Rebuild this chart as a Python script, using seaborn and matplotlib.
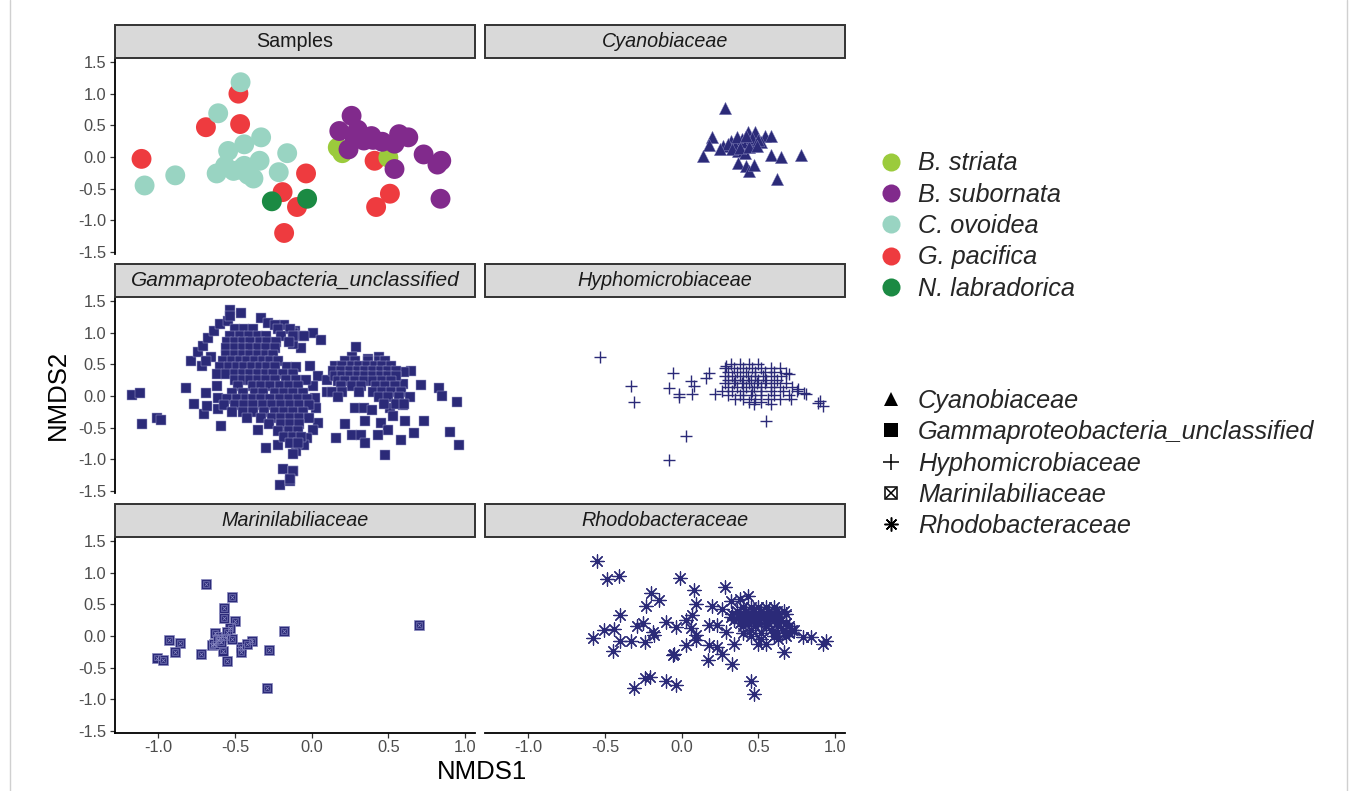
import numpy as np
import pandas as pd
import matplotlib
matplotlib.use("Agg")
import matplotlib.pyplot as plt
import seaborn as sns
from matplotlib.lines import Line2D
from matplotlib.patches import Rectangle
from matplotlib.legend_handler import HandlerTuple
from matplotlib.ticker import FixedLocator, FuncFormatter

sns.set_theme(style="white")
plt.rcParams["font.family"] = ["Liberation Sans", "DejaVu Sans"]

# ---------------- data ----------------
SPECIES = ["B. striata", "B. subornata", "C. ovoidea", "G. pacifica", "N. labradorica"]
SPECIES_COLORS = ["#9BCB3C", "#812A8C", "#99D4C2", "#EE3B3F", "#1B8A43"]

pacifica_x = [-0.478, -0.69, -0.467, -1.11, -0.037, -0.19, -0.096, -0.18, 0.41, 0.51, 0.42]
pacifica_y = [1.00, 0.47, 0.52, -0.03, -0.26, -0.555, -0.79, -1.20, -0.06, -0.58, -0.79]
ovoidea_x = [-0.464, -0.61, -0.33, -0.44, -0.545, -0.16, -0.89, -1.09, -0.62, -0.51,
             -0.44, -0.34, -0.38, -0.415, -0.215, -0.565, -0.47]
ovoidea_y = [1.18, 0.69, 0.31, 0.20, 0.095, 0.06, -0.29, -0.45, -0.26, -0.22,
             -0.14, -0.06, -0.34, -0.28, -0.24, -0.14, -0.20]
labradorica_x = [-0.26, -0.03]
labradorica_y = [-0.70, -0.66]
striata_x = [0.17, 0.20, 0.50]
striata_y = [0.15, 0.06, -0.01]
subornata_x = [0.26, 0.18, 0.30, 0.39, 0.34, 0.24, 0.46, 0.57, 0.63, 0.54, 0.73,
               0.845, 0.82, 0.54, 0.84, 0.40, 0.28]
subornata_y = [0.65, 0.41, 0.43, 0.33, 0.26, 0.12, 0.24, 0.36, 0.31, 0.21, 0.04,
               -0.06, -0.12, -0.19, -0.66, 0.27, 0.30]

cyano_x = [0.28, 0.20, 0.18, 0.14, 0.27, 0.32, 0.39, 0.43, 0.48, 0.54, 0.58, 0.52, 0.45,
           0.37, 0.41, 0.365, 0.42, 0.44, 0.47, 0.58, 0.65, 0.78, 0.62, 0.30, 0.35, 0.40,
           0.46, 0.50, 0.33, 0.38, 0.44, 0.49, 0.36, 0.42, 0.25]
cyano_y = [0.78, 0.32, 0.19, 0.02, 0.17, 0.26, 0.28, 0.39, 0.40, 0.33, 0.33, 0.23, 0.22,
           0.09, 0.07, -0.09, -0.14, -0.22, -0.12, 0.025, 0.0, 0.03, -0.34, 0.20, 0.18, 0.24,
           0.30, 0.27, 0.12, 0.14, 0.15, 0.18, 0.32, 0.33, 0.12]

# Gammaproteobacteria: dense clusters read row by row (y, xs), plus scattered points
gamma_rows = [
    (1.05, [-0.50, -0.44, -0.38, -0.22, -0.14]),
    (0.95, [-0.53, -0.47, -0.41, -0.35, -0.30, -0.20, -0.12, -0.05]),
    (0.85, [-0.55, -0.50, -0.45, -0.40, -0.34, -0.29, -0.23, -0.15]),
    (0.75, [-0.56, -0.50, -0.45, -0.40, -0.35, -0.30, -0.24]),
    (0.65, [-0.56, -0.50, -0.45, -0.40, -0.35, -0.30, -0.25]),
    (0.55, [-0.58, -0.52, -0.47, -0.42, -0.37, -0.32, -0.27, -0.22]),
    (0.45, [-0.60, -0.54, -0.49, -0.44, -0.39, -0.34, -0.29, -0.24, -0.16, -0.10]),
    (0.35, [-0.62, -0.56, -0.50, -0.45, -0.40, -0.35, -0.30, -0.25, -0.19, -0.12]),
    (0.25, [-0.50, -0.45, -0.40, -0.35, -0.30, -0.24, -0.17, -0.10, -0.04]),
    (0.15, [-0.48, -0.38, -0.33, -0.27, -0.21, -0.15, -0.09]),
    (0.05, [-0.52, -0.45, -0.37, -0.32, -0.24, -0.18, -0.12, -0.06]),
    (-0.05, [-0.55, -0.49, -0.43, -0.38, -0.33, -0.27, -0.21, -0.15, -0.09, -0.03]),
    (-0.15, [-0.57, -0.50, -0.44, -0.38, -0.32, -0.26, -0.20, -0.14, -0.08, -0.02]),
    (-0.25, [-0.52, -0.45, -0.38, -0.31, -0.24, -0.18, -0.12, -0.06]),
    (-0.35, [-0.42, -0.33, -0.26, -0.20, -0.14, -0.08, -0.02]),
    (-0.45, [-0.28, -0.20, -0.14, -0.08]),
    (-0.55, [-0.22, -0.15, -0.09]),
    (-0.65, [-0.18, -0.12, -0.07]),
    (-0.75, [-0.14, -0.09]),
    (0.55, [0.22, 0.28, 0.37, 0.44, 0.48]),
    (0.47, [0.15, 0.20, 0.26, 0.31, 0.36, 0.41, 0.46, 0.52]),
    (0.39, [0.14, 0.19, 0.25, 0.30, 0.35, 0.40, 0.45, 0.50, 0.55]),
    (0.31, [0.15, 0.20, 0.25, 0.30, 0.35, 0.40, 0.45, 0.50, 0.55]),
    (0.23, [0.17, 0.22, 0.28, 0.34, 0.40, 0.46, 0.52]),
    (0.15, [0.19, 0.26, 0.32, 0.42, 0.48, 0.54]),
    (0.07, [0.13, 0.20, 0.31, 0.40, 0.46, 0.52, 0.58]),
    (-0.02, [0.17, 0.44, 0.50, 0.57, 0.64]),
    (-0.12, [0.47, 0.55, 0.60]),
]
gamma_x = [-1.175, -1.12, -1.11, -1.01, -0.98, -0.82, -0.77, -0.69, -0.70, -0.68, -0.59, -0.79,
           -0.715, -0.74, -0.71, -0.675, -0.64, -0.60, -0.545, -0.53, -0.53, -0.46, -0.33, -0.285,
           -0.18, -0.11, -0.24, -0.62, -0.61, -0.61, -0.66, -0.69, -0.35, -0.295, -0.22, -0.19,
           -0.12, -0.21, -0.14, -0.17, -0.12, -0.07, 0.01, 0.06, -0.07, -0.12, 0.29, -0.01, 0.04,
           0.10, 0.10, 0.01, 0.02, 0.03, 0.04, 0.01, -0.03, -0.05, -0.10, -0.12, -0.12, -0.14,
           0.28, 0.34, 0.39, 0.51, 0.53, 0.215, 0.26, 0.32, 0.345, 0.345, 0.45, 0.50, 0.43, 0.16,
           0.58, 0.61, 0.67, 0.73, 0.48, 0.90, 0.96, 0.95, 0.83, 0.85, 0.71, 0.595, 0.65, 0.60,
           0.26, 0.37, 0.44, 0.595]
gamma_y = [0.01, 0.05, -0.45, -0.34, -0.38, 0.13, -0.13, 0.04, -0.29, -0.16, -0.48, 0.55,
           0.47, 0.70, 0.79, 0.92, 1.02, 1.13, 1.18, 1.35, 1.27, 1.31, 1.23, 1.15,
           1.12, 1.02, 1.12, 0.15, -0.03, -0.20, 0.62, 0.55, -0.53, -0.82, -0.77, -1.16,
           -1.19, -1.40, -1.35, -0.57, 0.99, 0.95, 0.99, 0.89, 0.76, 0.82, 0.77, 0.47, 0.31,
           0.26, 0.07, 0.15, -0.03, -0.19, -0.43, -0.53, -0.66, -0.77, -0.87, -0.92, -1.18, -1.31,
           -0.19, -0.19, -0.22, -0.19, -0.32, -0.45, -0.61, -0.61, -0.74, -0.40, -0.43, -0.53, -0.61, -0.66,
           -0.69, -0.39, -0.58, -0.39, -0.93, -0.57, -0.77, -0.10, 0.12, 0.005, 0.17, 0.19, 0.39, 0.38,
           0.61, 0.58, 0.62, -0.15]

hypho_rows = [
    (0.50, [0.32, 0.38, 0.44, 0.50]),
    (0.44, [0.28, 0.34, 0.40, 0.46, 0.52, 0.58, 0.64]),
    (0.38, [0.30, 0.36, 0.42, 0.48, 0.54, 0.60]),
    (0.32, [0.28, 0.33, 0.38, 0.43, 0.48, 0.53, 0.58, 0.65]),
    (0.26, [0.30, 0.35, 0.40, 0.45, 0.50, 0.55, 0.62]),
    (0.20, [0.28, 0.34, 0.39, 0.44, 0.49, 0.54, 0.60, 0.68]),
    (0.14, [0.30, 0.36, 0.42, 0.47, 0.52, 0.58, 0.64, 0.72]),
    (0.08, [0.26, 0.33, 0.40, 0.46, 0.52, 0.58, 0.66, 0.75]),
    (0.02, [0.30, 0.38, 0.45, 0.52, 0.60, 0.70]),
    (-0.04, [0.40, 0.48, 0.56, 0.64]),
    (-0.10, [0.44, 0.52]),
]
hypho_x = [-0.53, -0.33, -0.31, -0.06, -0.08, -0.02, -0.015, 0.03, -0.08, 0.06, 0.08, 0.07,
           0.16, 0.18, 0.22, 0.55, 0.71, 0.70, 0.886, 0.92, 0.81, 0.76, 0.80, 0.90, 0.35, 0.47,
           0.58, 0.68, 0.29]
hypho_y = [0.62, 0.16, -0.09, 0.37, 0.13, 0.03, -0.02, -0.63, -1.01, 0.24, 0.16, 0.03,
           0.29, 0.37, 0.03, -0.39, -0.05, 0.34, -0.11, -0.16, 0.03, 0.11, 0.05, -0.08, -0.05, -0.13,
           -0.13, 0.37, 0.47]

marini_x = [-0.69, -0.52, -0.57, -0.57, -0.50, -0.53, -0.63, -0.93, -0.86, -0.89, -1.01, -0.97,
            -0.72, -0.65, -0.60, -0.56, -0.58, -0.555, -0.46, -0.46, -0.39, -0.28, -0.18, -0.29,
            0.70, -0.64, -0.61, -0.55, -0.42, -0.59, -0.52]
marini_y = [0.82, 0.62, 0.44, 0.28, 0.23, 0.13, 0.04, -0.06, -0.11, -0.26, -0.34, -0.38,
            -0.28, -0.15, -0.02, -0.02, -0.23, -0.39, -0.17, -0.25, -0.08, -0.22, 0.08, -0.82,
            0.18, -0.12, -0.07, 0.06, -0.12, -0.10, -0.05]

rhodo_rows = [
    (0.45, [0.40, 0.45, 0.50, 0.55, 0.60]),
    (0.40, [0.36, 0.42, 0.47, 0.52, 0.57, 0.62, 0.67]),
    (0.35, [0.33, 0.38, 0.43, 0.48, 0.53, 0.58, 0.63, 0.68]),
    (0.30, [0.32, 0.37, 0.42, 0.47, 0.52, 0.57, 0.62]),
    (0.25, [0.34, 0.40, 0.45, 0.50, 0.55, 0.60, 0.65]),
    (0.20, [0.38, 0.44, 0.50, 0.56, 0.62, 0.68]),
    (0.15, [0.40, 0.48, 0.55, 0.63, 0.70]),
    (0.10, [0.45, 0.58, 0.66, 0.72]),
    (0.05, [0.40, 0.52, 0.62, 0.70]),
    (0.00, [0.45, 0.60, 0.68]),
    (-0.05, [0.52, 0.63]),
]
rhodo_x = [-0.55, -0.49, -0.41, -0.01, 0.08, 0.28, -0.20, -0.15, -0.23, 0.09, 0.20, 0.26, 0.32,
           0.38, 0.43, -0.40, -0.58, -0.51, -0.44, -0.40, -0.45, -0.33, -0.29, -0.25, -0.24,
           -0.19, -0.18, -0.10, -0.04, 0.03, 0.07, 0.06, 0.09, 0.09, 0.03, -0.05, -0.06, 0.18,
           0.18, 0.17, 0.23, 0.26, 0.33, 0.34, 0.23, 0.29, -0.31, -0.24, -0.21, -0.10, -0.04,
           0.45, 0.47, 0.67, 0.92, 0.94, 0.84, 0.79, 0.73, 0.495, 0.55]
rhodo_y = [1.18, 0.90, 0.94, 0.92, 0.73, 0.77, 0.68, 0.57, 0.47, 0.51, 0.48, 0.43, 0.56,
           0.59, 0.63, 0.33, -0.03, 0.10, 0.11, -0.08, -0.24, -0.08, 0.15, 0.21, -0.09,
           0.06, 0.02, 0.22, 0.14, 0.25, 0.33, 0.12, 0.01, -0.07, -0.15, -0.28, -0.30, 0.17,
           -0.15, -0.38, -0.17, -0.28, -0.45, -0.12, 0.17, 0.06, -0.82, -0.67, -0.65, -0.71, -0.78,
           -0.71, -0.91, -0.26, -0.13, -0.08, -0.02, -0.02, 0.09, -0.12, -0.12]

FAMILIES = ["Cyanobiaceae", "Gammaproteobacteria_unclassified", "Hyphomicrobiaceae",
            "Marinilabiliaceae", "Rhodobacteraceae"]
X_TICKS = [-1.0, -0.5, 0.0, 0.5, 1.0]
Y_TICKS = [-1.5, -1.0, -0.5, 0.0, 0.5, 1.0, 1.5]

# ---------------- build tables ----------------
def rows_to_xy(rows, xs, ys):
    ox, oy = list(xs), list(ys)
    for yv, xl in rows:
        ox += xl
        oy += [yv] * len(xl)
    return ox, oy

samples = pd.concat([
    pd.DataFrame({"x": pacifica_x, "y": pacifica_y, "sp": "G. pacifica"}),
    pd.DataFrame({"x": ovoidea_x, "y": ovoidea_y, "sp": "C. ovoidea"}),
    pd.DataFrame({"x": labradorica_x, "y": labradorica_y, "sp": "N. labradorica"}),
    pd.DataFrame({"x": striata_x, "y": striata_y, "sp": "B. striata"}),
    pd.DataFrame({"x": subornata_x, "y": subornata_y, "sp": "B. subornata"}),
], ignore_index=True)

gx, gy = rows_to_xy(gamma_rows, gamma_x, gamma_y)
hx, hy = rows_to_xy(hypho_rows, hypho_x, hypho_y)
rx, ry = rows_to_xy(rhodo_rows, rhodo_x, rhodo_y)
fam_data = {
    "Cyanobiaceae": pd.DataFrame({"x": cyano_x, "y": cyano_y}),
    "Gammaproteobacteria_unclassified": pd.DataFrame({"x": gx, "y": gy}),
    "Hyphomicrobiaceae": pd.DataFrame({"x": hx, "y": hy}),
    "Marinilabiliaceae": pd.DataFrame({"x": marini_x, "y": marini_y}),
    "Rhodobacteraceae": pd.DataFrame({"x": rx, "y": ry}),
}

# ---------------- figure layout ----------------
W, H = 1356, 791
fig = plt.figure(figsize=(W / 100, H / 100), dpi=100)
NAVY = "#2B2A78"
XLIM = (-1.283, 1.065)
YLIM = (-1.532, 1.547)
col_left = [115, 485]
panel_w = 360
row_top = [59, 298, 538]
panel_h = 195
strip_h = 33

def make_ax(r, c):
    left = col_left[c] / W
    bottom = 1 - (row_top[r] + panel_h) / H
    ax = fig.add_axes([left, bottom, panel_w / W, panel_h / H])
    ax.set_xlim(*XLIM)
    ax.set_ylim(*YLIM)
    ax.set_facecolor("white")
    for s in ax.spines.values():
        s.set_visible(False)
    ax.xaxis.set_major_locator(FixedLocator(X_TICKS))
    ax.yaxis.set_major_locator(FixedLocator(Y_TICKS))
    fmt = FuncFormatter(lambda v, p: f"{v:.1f}")
    ax.xaxis.set_major_formatter(fmt)
    ax.yaxis.set_major_formatter(fmt)
    ax.tick_params(axis="both", length=3.3, width=0.9, color="#333333",
                   labelsize=11.8, labelcolor="#4D4D4D")
    ax.tick_params(axis="x", pad=1.5)
    ax.tick_params(axis="y", pad=3)
    if c == 0:
        ax.spines["left"].set_visible(True)
        ax.spines["left"].set_linewidth(1.3)
        ax.spines["left"].set_color("black")
        ax.tick_params(axis="y", left=True, labelleft=True)
    else:
        ax.tick_params(axis="y", left=False, labelleft=False)
    if r == 2:
        ax.spines["bottom"].set_visible(True)
        ax.spines["bottom"].set_linewidth(1.3)
        ax.spines["bottom"].set_color("black")
        ax.tick_params(axis="x", bottom=True, labelbottom=True)
    else:
        ax.tick_params(axis="x", bottom=False, labelbottom=False)
    ax.set_xlabel("")
    ax.set_ylabel("")
    return ax

def add_strip(ax, label, italic, size):
    y0 = 1 + 1.0 / panel_h
    hh = strip_h / panel_h
    ax.add_patch(Rectangle((0, y0), 1, hh, transform=ax.transAxes, clip_on=False,
                           facecolor="#D9D9D9", edgecolor="#333333", linewidth=1.4, zorder=5))
    ax.text(0.5, y0 + hh / 2, label, transform=ax.transAxes, ha="center", va="center",
            fontsize=size, color="#1A1A1A", style="italic" if italic else "normal", zorder=6)

panels = [("Samples", 0, 0), ("Cyanobiaceae", 0, 1),
          ("Gammaproteobacteria_unclassified", 1, 0), ("Hyphomicrobiaceae", 1, 1),
          ("Marinilabiliaceae", 2, 0), ("Rhodobacteraceae", 2, 1)]

for name, r, c in panels:
    ax = make_ax(r, c)
    if name == "Samples":
        sns.scatterplot(data=samples, x="x", y="y", hue="sp", hue_order=SPECIES,
                        palette=dict(zip(SPECIES, SPECIES_COLORS)), s=205, linewidth=0,
                        marker="o", legend=False, ax=ax)
    else:
        d = fam_data[name]
        if name == "Cyanobiaceae":
            sns.scatterplot(data=d, x="x", y="y", color=NAVY, marker="^", s=80,
                            linewidth=0.3, edgecolor="#8a8ac0", legend=False, ax=ax)
        elif name == "Gammaproteobacteria_unclassified":
            sns.scatterplot(data=d, x="x", y="y", color=NAVY, marker="s", s=62,
                            linewidth=0.35, edgecolor="#a0a0cc", legend=False, ax=ax)
        elif name == "Hyphomicrobiaceae":
            sns.scatterplot(data=d, x="x", y="y", color=NAVY, marker="+", s=85,
                            linewidth=1.0, legend=False, ax=ax)
        elif name == "Marinilabiliaceae":
            sns.scatterplot(data=d, x="x", y="y", color=NAVY, marker="s", s=58,
                            linewidth=0.5, edgecolor="#8a8ac0", legend=False, ax=ax)
            sns.scatterplot(data=d, x="x", y="y", marker="s", s=18, facecolor="none",
                            edgecolor="#7474b4", linewidth=0.5, legend=False, ax=ax)
            sns.scatterplot(data=d, x="x", y="y", color="#8a8ac4", marker="x", s=8,
                            linewidth=0.5, legend=False, ax=ax)
        elif name == "Rhodobacteraceae":
            sns.scatterplot(data=d, x="x", y="y", color=NAVY, marker=(8, 2, 0), s=90,
                            linewidth=0.9, legend=False, ax=ax)
    ax.set_xlabel("")
    ax.set_ylabel("")
    size = 15.0 if name == "Gammaproteobacteria_unclassified" else 14.2
    add_strip(ax, name, italic=(name != "Samples"), size=size)

# axis titles
fig.text(482 / W, 1 - 772 / H, "NMDS1", ha="center", va="center", fontsize=18.5, color="black")
fig.text(58 / W, 1 - 395 / H, "NMDS2", ha="center", va="center", rotation=90,
         fontsize=18.5, color="black")

# ---------------- legends ----------------
LEG_FS = 18.2
col_handles = [Line2D([], [], linestyle="none", marker="o", markersize=13,
                      markerfacecolor=cl, markeredgewidth=0) for cl in SPECIES_COLORS]
leg1 = fig.legend(col_handles, SPECIES, loc="upper left",
                  bbox_to_anchor=(879 / W, 1 - 151.5 / H), frameon=False,
                  prop={"style": "italic", "size": LEG_FS}, handlelength=0.96,
                  handletextpad=0.58, labelspacing=0.29, borderpad=0, borderaxespad=0)

boxed = (Line2D([], [], linestyle="none", marker="s", markersize=8.5, markerfacecolor="none",
                markeredgecolor="black", markeredgewidth=1.1),
         Line2D([], [], linestyle="none", marker="x", markersize=7.0, color="black",
                markeredgewidth=1.1))
shape_handles = [
    Line2D([], [], linestyle="none", marker="^", markersize=10.5, color="black", markeredgewidth=0),
    Line2D([], [], linestyle="none", marker="s", markersize=10, color="black", markeredgewidth=0),
    Line2D([], [], linestyle="none", marker="+", markersize=11, color="black", markeredgewidth=1.1),
    boxed,
    Line2D([], [], linestyle="none", marker=(8, 2, 0), markersize=10, color="black",
           markeredgewidth=1.1),
]
leg2 = fig.legend(shape_handles, FAMILIES, loc="upper left",
                  bbox_to_anchor=(879 / W, 1 - 389 / H), frameon=False,
                  prop={"style": "italic", "size": LEG_FS}, handlelength=0.96,
                  handletextpad=0.58, labelspacing=0.29, borderpad=0, borderaxespad=0,
                  handler_map={tuple: HandlerTuple(ndivide=1, pad=0)})

# faint frame lines at the figure sides
fig.add_artist(Line2D([10 / W, 10 / W], [0, 1], transform=fig.transFigure,
                      color="#D0D0D0", linewidth=1))
fig.add_artist(Line2D([1347 / W, 1347 / W], [0, 1], transform=fig.transFigure,
                      color="#D0D0D0", linewidth=1))

fig.savefig("out.png", dpi=100, facecolor="white")
